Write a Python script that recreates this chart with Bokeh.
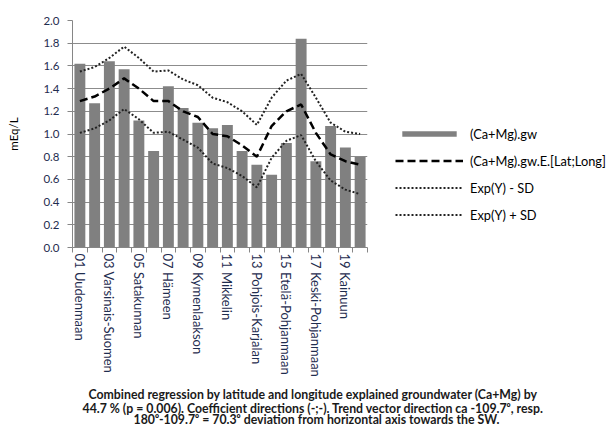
from bokeh.plotting import figure
from bokeh.models import (ColumnDataSource, FixedTicker, Range1d, Legend, LegendItem,
                          Title, NumeralTickFormatter)
from bokeh.embed import file_html
from bokeh.resources import INLINE

# ---- data ----
codes = list(range(1, 21))
gw = [1.62, 1.27, 1.64, 1.57, 1.12, 0.85, 1.42, 1.23, 1.10, 1.05,
      1.08, 0.85, 0.73, 0.64, 0.92, 1.84, 0.76, 1.07, 0.88, 0.80]
gw_exp = [1.29, 1.33, 1.40, 1.49, 1.40, 1.29, 1.29, 1.20, 1.15, 1.00,
          0.98, 0.90, 0.80, 1.07, 1.20, 1.26, 1.01, 0.82, 0.76, 0.73]
exp_minus_sd = [1.01, 1.05, 1.12, 1.22, 1.13, 1.01, 1.02, 0.95, 0.88, 0.74,
                0.70, 0.63, 0.53, 0.79, 0.94, 0.99, 0.76, 0.59, 0.51, 0.47]
exp_plus_sd = [1.55, 1.59, 1.67, 1.77, 1.67, 1.55, 1.56, 1.48, 1.43, 1.32,
               1.28, 1.20, 1.08, 1.32, 1.47, 1.53, 1.32, 1.10, 1.02, 1.00]
tick_labels = ["01 Uudenmaan", "03 Varsinais-Suomen", "05 Satakunnan", "07 Hämeen",
               "09 Kymenlaakson", "11 Mikkelin", "13 Pohjois-Karjalan",
               "15 Etelä-Pohjanmaan", "17 Keski-Pohjanmaan", "19 Kainuun"]
series_names = ["(Ca+Mg).gw", "(Ca+Mg).gw.E.[Lat;Long]", "Exp(Y) - SD", "Exp(Y) + SD"]
y_label = "mEq/L"
caption = ["Combined regression by latitude and longitude explained groundwater (Ca+Mg) by",
           "44.7 % (p = 0.006). Coefficient directions (-;-). Trend vector direction ca -109.7\u2070, resp.",
           "180\u2070-109.7\u2070 = 70.3\u2070 deviation from horizontal axis towards the SW."]

src = ColumnDataSource(dict(x=codes, gw=gw, e=gw_exp, lo=exp_minus_sd, hi=exp_plus_sd))

FONT = "Lato"
p = figure(output_backend="svg", toolbar_location=None,
           frame_width=295, frame_height=227,
           min_border_left=72, min_border_right=230, min_border_top=20, min_border_bottom=175,
           x_range=Range1d(0.5, len(codes) + 0.5), y_range=Range1d(0, 2.0),
           background_fill_color="white", border_fill_color="white")
p.outline_line_color = None

bars = p.vbar(x="x", top="gw", width=0.74, source=src, fill_color="#808080", line_color=None)
l_e = p.line("x", "e", source=src, line_color="black", line_width=2.5, line_dash="8 4")
l_lo = p.line("x", "lo", source=src, line_color="#222222", line_width=2, line_dash="2 2")
l_hi = p.line("x", "hi", source=src, line_color="#222222", line_width=2, line_dash="2 2")

# y axis
p.yaxis.ticker = FixedTicker(ticks=[i * 0.2 for i in range(11)])
p.yaxis.formatter = NumeralTickFormatter(format="0.0")
p.yaxis.axis_line_color = "#868686"
p.yaxis.major_tick_line_color = "#868686"
p.yaxis.major_tick_out = 5
p.yaxis.major_tick_in = 0
p.yaxis.minor_tick_line_color = None
p.yaxis.major_label_text_font = FONT
p.yaxis.major_label_text_font_size = "11.5px"
p.yaxis.major_label_text_color = "#1F2D4F"
p.yaxis.major_label_standoff = 8
p.yaxis.axis_label = y_label
p.yaxis.axis_label_text_font = FONT
p.yaxis.axis_label_text_font_size = "11.5px"
p.yaxis.axis_label_text_font_style = "normal"
p.yaxis.axis_label_text_color = "black"
p.yaxis.axis_label_standoff = 20

# x axis
major = [int(t[:2]) for t in tick_labels]
p.xaxis.ticker = FixedTicker(ticks=major, minor_ticks=[c - 0.5 for c in codes] + [codes[-1] + 0.5])
p.xaxis.major_label_overrides = {m: t for m, t in zip(major, tick_labels)}
p.xaxis.major_label_orientation = "vertical"
p.xaxis.major_tick_out = 0
p.xaxis.major_tick_in = 0
p.xaxis.minor_tick_out = 5
p.xaxis.minor_tick_in = 0
p.xaxis.minor_tick_line_color = "#868686"
p.xaxis.axis_line_color = "#868686"
p.xaxis.major_label_text_font = FONT
p.xaxis.major_label_text_font_size = "13px"
p.xaxis.major_label_text_color = "#1F2D4F"
p.xaxis.major_label_standoff = 1

p.xgrid.grid_line_color = None
p.ygrid.ticker = FixedTicker(ticks=[i * 0.2 for i in range(11)])
p.ygrid.grid_line_color = "#8C8C8C"
p.ygrid.grid_line_width = 1

legend = Legend(items=[
    LegendItem(label=series_names[0], renderers=[bars]),
    LegendItem(label=series_names[1], renderers=[l_e]),
    LegendItem(label=series_names[2], renderers=[l_lo]),
    LegendItem(label=series_names[3], renderers=[l_hi]),
], location=(28, 24), orientation="vertical",
    glyph_width=68, glyph_height=7, label_height=17, spacing=10,
    label_standoff=7, padding=0, margin=0,
    border_line_color=None, background_fill_alpha=0,
    label_text_font=FONT, label_text_font_size="12.8px", label_text_color="black")
p.add_layout(legend, "right")

offsets = [16, 10, 61]
standoffs = [11, -17, 4]
for line, off, so in zip(caption, offsets, standoffs):
    p.add_layout(Title(text=line, align="left", offset=off, standoff=so,
                       text_font=FONT, text_font_size="12.3px", text_font_style="bold",
                       text_color="#1a1a1a"), "below")

open("out.html", "w").write(file_html(p, INLINE))
